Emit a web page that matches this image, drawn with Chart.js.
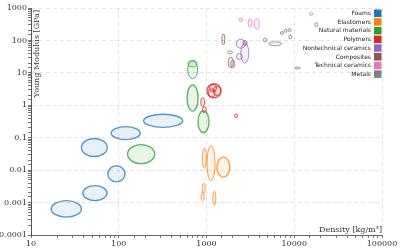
<!DOCTYPE html>
<html>
<head>
<meta charset="utf-8">
<script src="https://cdn.jsdelivr.net/npm/chart.js@4.4.1/dist/chart.umd.min.js"></script>
<style>
  html, body { margin: 0; padding: 0; background: #fff; }
</style>
</head>
<body>
<canvas id="ashby" width="400" height="249"></canvas>
<script>
// material families, in legend order
const categories = ['Foams', 'Elastomers', 'Natural materials', 'Polymers',
  'Nontechnical ceramics', 'Composites', 'Technical ceramics', 'Metals'];
const colors = ['#1f77b4', '#ff7f0e', '#2ca02c', '#d62728',
  '#9467bd', '#8c564b', '#e377c2', '#7f7f7f'];

// each bubble: [density min, density max, modulus min, modulus max]
const foams = [
  [17, 37.5, 0.000355, 0.00115],
  [39, 73.5, 0.00115, 0.00333],
  [75, 118, 0.00435, 0.0136],
  [37.5, 74, 0.0263, 0.0944],
  [82, 176, 0.0873, 0.22],
  [192, 535, 0.209, 0.527]
];
const elastomers = [
  [896, 995, 0.0115, 0.0478],
  [1014, 1251, 0.00468, 0.0574],
  [1313, 1846, 0.00608, 0.0252],
  [893, 966, 0.00195, 0.00397],
  [869, 942, 0.00115, 0.00204],
  [1180, 1277, 0.00083, 0.00225]
];
const naturalMaterials = [
  [126, 257, 0.0159, 0.0612],
  [610, 793, 6.6, 23.6],
  [615, 778, 15.4, 23.6],
  [601, 803, 0.66, 4.2],
  [800, 1068, 0.142, 0.676]
];
const polymers = [
  [1014, 1466, 1.7, 4.6],
  [1080, 1300, 2.6, 4.4],
  [1200, 1450, 2.0, 3.8],
  [1050, 1250, 1.8, 3.2],
  [859, 953, 0.91, 1.73],
  [896, 995, 0.59, 0.9],
  [2090, 2260, 0.41, 0.547]
];
const nontechCeramics = [
  [2183, 2767, 57.4, 109],
  [2460, 3036, 20, 83],
  [2193, 2566, 25.9, 39.7],
  [1892, 2101, 14.1, 24.8]
];
const composites = [
  [1496, 1618, 72.6, 158],
  [2612, 2904, 69.6, 99],
  [1771, 2018, 14.7, 29.9]
];
const technicalCeramics = [
  [2333, 2594, 392, 484],
  [2979, 3311, 259, 457],
  [3508, 4000, 225, 457],
  [15000, 16300, 587, 726]
];
const metals = [
  [1738, 1982, 38.3, 47.4],
  [4426, 4914, 89, 119],
  [5117, 7197, 68.6, 91],
  [6950, 7530, 152, 188],
  [7640, 8280, 179, 222],
  [8490, 9180, 188, 233],
  [8650, 9360, 110, 147],
  [17100, 18600, 265, 352],
  [10070, 11800, 13.1, 15.1]
];
const families = [foams, elastomers, naturalMaterials, polymers,
  nontechCeramics, composites, technicalCeramics, metals];

const xTicks = [10, 100, 1000, 10000, 100000];
const xTickLabels = ['10', '100', '1000', '10000', '100000'];
const yTicks = [0.0001, 0.001, 0.01, 0.1, 1, 10, 100, 1000];
const yTickLabels = ['0.0001', '0.001', '0.01', '0.1', '1', '10', '100', '1000'];

let hexToRgba = (hex, a) => {
  const n = parseInt(hex.slice(1), 16);
  return `rgba(${(n >> 16) & 255},${(n >> 8) & 255},${n & 255},${a})`;
};

let isDecade = (v) => Math.abs(Math.log10(v) - Math.round(Math.log10(v))) < 1e-6;

let labelFor = (v, ticks, labels) => {
  if (!isDecade(v)) return '';
  const i = ticks.findIndex(t => Math.abs(Math.log10(t) - Math.log10(v)) < 1e-6);
  return i >= 0 ? labels[i] : '';
};

// bubbles are drawn through the x/y scales
const ellipsePlugin = {
  id: 'ellipses',
  beforeDatasetsDraw(chart) {
    const {ctx, chartArea, scales: {x, y}} = chart;
    ctx.save();
    ctx.beginPath();
    ctx.rect(chartArea.left, chartArea.top, chartArea.width, chartArea.height);
    ctx.clip();
    chart.data.datasets.forEach((ds) => {
      ds.boxes.forEach((b) => {
        const x1 = x.getPixelForValue(b[0]), x2 = x.getPixelForValue(b[1]);
        const y1 = y.getPixelForValue(b[2]), y2 = y.getPixelForValue(b[3]);
        const rx = Math.abs(x2 - x1) / 2, ry = Math.abs(y2 - y1) / 2;
        ctx.beginPath();
        ctx.ellipse((x1 + x2) / 2, (y1 + y2) / 2, rx, ry, 0, 0, Math.PI * 2);
        ctx.fillStyle = ds.fillColor;
        ctx.fill();
        ctx.lineWidth = Math.min(rx, ry) > 5 ? 1.4 : 1;
        ctx.strokeStyle = ds.lineColor;
        ctx.stroke();
      });
    });
    ctx.restore();
  }
};

// axis titles inside the plot + legend at top right
const decorPlugin = {
  id: 'decor',
  afterDraw(chart) {
    const {ctx, chartArea} = chart;
    ctx.save();
    ctx.fillStyle = '#333';
    ctx.font = '8px "DejaVu Serif"';
    ctx.textAlign = 'right';
    ctx.textBaseline = 'bottom';
    ctx.fillText('Density [kg/m\u00b3]', chartArea.right, chartArea.bottom - 1);

    ctx.translate(chartArea.left + 6, chartArea.top + 2);
    ctx.rotate(-Math.PI / 2);
    ctx.textBaseline = 'middle';
    ctx.fillText('Young Modulus [GPa]', 0, 0);
    ctx.restore();

    ctx.save();
    const boxX = chartArea.right - 8, top = chartArea.top + 1.5, step = 8.7;
    ctx.font = '6px "DejaVu Sans"';
    ctx.textAlign = 'right';
    ctx.textBaseline = 'middle';
    categories.forEach((name, i) => {
      const yy = top + i * step;
      ctx.fillStyle = colors[i];
      ctx.fillRect(boxX, yy, 7.5, 7.5);
      ctx.fillStyle = '#222';
      ctx.fillText(name, boxX - 3, yy + 4);
    });
    ctx.restore();
  }
};

let gridColor = (c) => (c.tick && isDecade(c.tick.value)) ? '#e4e4e4' : 'rgba(0,0,0,0)';

document.addEventListener('DOMContentLoaded', () => {
  const datasets = families.map((boxes, i) => ({
    label: categories[i],
    data: boxes.map(b => ({x: Math.sqrt(b[0] * b[1]), y: Math.sqrt(b[2] * b[3])})),
    boxes: boxes,
    lineColor: hexToRgba(colors[i], 0.75),
    fillColor: hexToRgba(colors[i], 0.1),
    pointRadius: 0,
    showLine: false
  }));

  new Chart(document.getElementById('ashby'), {
    type: 'scatter',
    data: { datasets },
    plugins: [ellipsePlugin, decorPlugin],
    options: {
      responsive: false,
      animation: false,
      devicePixelRatio: 1,
      layout: { padding: { top: 8, right: 18, left: 0, bottom: 0 } },
      plugins: {
        legend: { display: false },
        tooltip: { enabled: false }
      },
      scales: {
        x: {
          type: 'logarithmic',
          min: 10,
          max: 100000,
          afterFit: (s) => { s.height = 14; },
          border: { color: '#666', width: 1, dash: [4, 3] },
          grid: { color: gridColor, tickColor: '#777', tickLength: 3, tickBorderDash: [] },
          ticks: {
            autoSkip: false,
            maxRotation: 0,
            padding: 1,
            color: '#333',
            font: { family: 'DejaVu Serif', size: 8 },
            callback: (v) => labelFor(v, xTicks, xTickLabels)
          }
        },
        y: {
          type: 'logarithmic',
          min: 0.0001,
          max: 1000,
          afterFit: (s) => { s.width = 31; },
          border: { color: '#555', width: 1, dash: [4, 3] },
          grid: { color: gridColor, tickColor: '#777', tickLength: 3, tickBorderDash: [] },
          ticks: {
            autoSkip: false,
            padding: 1,
            color: '#333',
            font: { family: 'DejaVu Serif', size: 8 },
            callback: (v) => labelFor(v, yTicks, yTickLabels)
          }
        }
      }
    }
  });
});
</script>
</body>
</html>
